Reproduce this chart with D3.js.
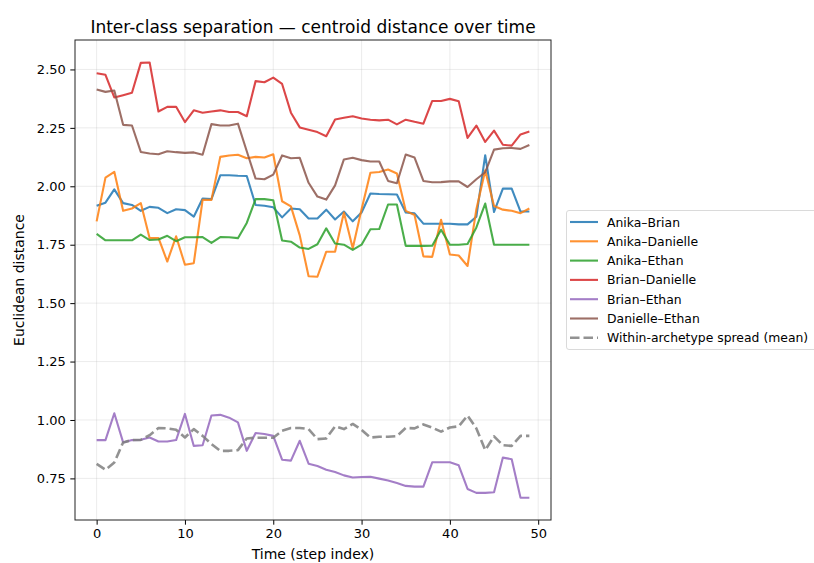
<!DOCTYPE html>
<html>
<head>
<meta charset="utf-8">
<script src="https://cdn.jsdelivr.net/npm/d3@7"></script>
<style>
  html, body { margin: 0; padding: 0; background: #fff; }
  svg { display: block; font-family: "DejaVu Sans", sans-serif; }
</style>
</head>
<body>
<svg id="chart" width="814" height="563"></svg>
<script>
// Centroid distance between each pair of archetypes, per time step
const steps = d3.range(50);

const anikaBrian = [1.917, 1.930, 1.987, 1.928, 1.920, 1.895, 1.912, 1.908, 1.885, 1.902,
  1.898, 1.870, 1.948, 1.945, 2.047, 2.047, 2.045, 2.044, 1.920, 1.917,
  1.910, 1.867, 1.905, 1.902, 1.862, 1.862, 1.900, 1.858, 1.892, 1.850,
  1.888, 1.969, 1.967, 1.966, 1.965, 1.888, 1.884, 1.840, 1.840, 1.840,
  1.840, 1.837, 1.837, 1.870, 2.133, 1.890, 1.990, 1.990, 1.892, 1.892];

const anikaDanielle = [1.850, 2.037, 2.062, 1.895, 1.905, 1.928, 1.778, 1.779, 1.678, 1.786,
  1.664, 1.671, 1.942, 1.942, 2.126, 2.132, 2.135, 2.120, 2.126, 2.123,
  2.137, 1.936, 1.914, 1.790, 1.615, 1.613, 1.720, 1.720, 1.888, 1.735,
  1.902, 2.058, 2.061, 2.072, 2.055, 1.895, 1.877, 1.700, 1.698, 1.857,
  1.708, 1.704, 1.659, 1.902, 2.068, 1.916, 1.900, 1.895, 1.885, 1.905];

const anikaEthan = [1.796, 1.769, 1.769, 1.769, 1.769, 1.793, 1.770, 1.772, 1.788, 1.765,
  1.782, 1.782, 1.783, 1.758, 1.783, 1.782, 1.778, 1.843, 1.945, 1.945,
  1.940, 1.768, 1.763, 1.738, 1.732, 1.752, 1.820, 1.755, 1.750, 1.728,
  1.750, 1.816, 1.817, 1.922, 1.922, 1.745, 1.745, 1.745, 1.746, 1.814,
  1.750, 1.750, 1.753, 1.824, 1.926, 1.750, 1.750, 1.750, 1.750, 1.750];

const brianDanielle = [2.484, 2.477, 2.380, 2.390, 2.400, 2.528, 2.530, 2.320, 2.340, 2.340,
  2.275, 2.325, 2.315, 2.320, 2.325, 2.318, 2.318, 2.300, 2.450, 2.445,
  2.465, 2.438, 2.315, 2.252, 2.242, 2.232, 2.214, 2.286, 2.293, 2.300,
  2.290, 2.285, 2.282, 2.285, 2.265, 2.285, 2.276, 2.268, 2.365, 2.365,
  2.374, 2.364, 2.207, 2.260, 2.190, 2.238, 2.178, 2.174, 2.222, 2.234];

const brianEthan = [0.914, 0.914, 1.029, 0.904, 0.914, 0.915, 0.925, 0.908, 0.908, 0.914,
  1.026, 0.889, 0.892, 1.019, 1.022, 1.010, 0.990, 0.868, 0.944, 0.940,
  0.932, 0.830, 0.826, 0.911, 0.813, 0.803, 0.787, 0.777, 0.763, 0.754,
  0.756, 0.757, 0.749, 0.741, 0.730, 0.718, 0.715, 0.715, 0.819, 0.819,
  0.819, 0.806, 0.705, 0.688, 0.688, 0.691, 0.839, 0.832, 0.667, 0.667];

const danielleEthan = [2.414, 2.404, 2.410, 2.263, 2.260, 2.147, 2.140, 2.137, 2.150, 2.146,
  2.143, 2.145, 2.135, 2.266, 2.260, 2.260, 2.268, 2.150, 2.033, 2.030,
  2.050, 2.132, 2.120, 2.122, 2.015, 1.956, 1.943, 2.004, 2.115, 2.122,
  2.112, 2.106, 2.106, 2.023, 2.013, 2.136, 2.123, 2.023, 2.017, 2.018,
  2.021, 2.021, 1.997, 2.030, 2.060, 2.157, 2.163, 2.164, 2.160, 2.177];

const withinSpread = [0.812, 0.787, 0.818, 0.904, 0.914, 0.915, 0.935, 0.966, 0.964, 0.958,
  0.925, 0.961, 0.932, 0.897, 0.868, 0.868, 0.871, 0.921, 0.924, 0.924,
  0.924, 0.954, 0.966, 0.966, 0.961, 0.918, 0.921, 0.973, 0.961, 0.983,
  0.958, 0.925, 0.928, 0.928, 0.931, 0.966, 0.964, 0.981, 0.967, 0.950,
  0.968, 0.973, 1.019, 0.964, 0.871, 0.930, 0.892, 0.889, 0.932, 0.932];

const seriesNames = ["Anika–Brian", "Anika–Danielle", "Anika–Ethan", "Brian–Danielle",
  "Brian–Ethan", "Danielle–Ethan", "Within-archetype spread (mean)"];
const seriesValues = [anikaBrian, anikaDanielle, anikaEthan, brianDanielle,
  brianEthan, danielleEthan, withinSpread];
const seriesColors = ["#1f77b4", "#ff7f0e", "#2ca02c", "#d62728", "#9467bd", "#8c564b", "#7f7f7f"];

const xTicks = [0, 10, 20, 30, 40, 50];
const yTicks = [0.75, 1.00, 1.25, 1.50, 1.75, 2.00, 2.25, 2.50];

const svg = d3.select("#chart");
const plot = { left: 75, right: 551, top: 40, bottom: 520 };
const fontSize = "13px";
const labelFontSize = "14px";
const legendFontSize = "12.4px";

const x = d3.scaleLinear().domain([-2.45, 51.45]).range([plot.left, plot.right]);
const y = d3.scaleLinear().domain([0.572, 2.626]).range([plot.bottom, plot.top]);

// grid
const grid = svg.append("g");
grid.selectAll(".gx").data(xTicks).join("line")
  .attr("x1", d => x(d)).attr("x2", d => x(d))
  .attr("y1", plot.top).attr("y2", plot.bottom)
  .attr("stroke", "#b0b0b0").attr("stroke-opacity", 0.3).attr("stroke-width", 0.8);
grid.selectAll(".gy").data(yTicks).join("line")
  .attr("y1", d => y(d)).attr("y2", d => y(d))
  .attr("x1", plot.left).attr("x2", plot.right)
  .attr("stroke", "#b0b0b0").attr("stroke-opacity", 0.3).attr("stroke-width", 0.8);

// lines
const line = d3.line().x((d, i) => x(steps[i])).y(d => y(d));
seriesValues.forEach((vals, k) => {
  const dashed = k === 6;
  svg.append("path")
    .datum(vals)
    .attr("d", line)
    .attr("fill", "none")
    .attr("stroke", seriesColors[k])
    .attr("stroke-opacity", 0.85)
    .attr("stroke-width", dashed ? 2.6 : 2.1)
    .attr("stroke-linejoin", "round")
    .attr("stroke-dasharray", dashed ? "9.5,4" : null);
});

// axes
const xAxis = d3.axisBottom(x).tickValues(xTicks).tickSize(4.7).tickPadding(4).tickFormat(d3.format("d"));
const yAxis = d3.axisLeft(y).tickValues(yTicks).tickSize(4.7).tickPadding(4.5).tickFormat(d3.format(".2f"));

const gx = svg.append("g").attr("transform", `translate(0,${plot.bottom})`).call(xAxis);
const gy = svg.append("g").attr("transform", `translate(${plot.left},0)`).call(yAxis);
[gx, gy].forEach(g => {
  g.select(".domain").remove();
  g.selectAll(".tick line").attr("stroke", "#000").attr("stroke-width", 1);
  g.selectAll(".tick text").attr("fill", "#000").style("font-size", fontSize)
    .style("font-family", "'DejaVu Sans', sans-serif");
});

// frame
svg.append("rect")
  .attr("x", plot.left).attr("y", plot.top)
  .attr("width", plot.right - plot.left).attr("height", plot.bottom - plot.top)
  .attr("fill", "none").attr("stroke", "#222").attr("stroke-width", 1);

// title & axis labels
svg.append("text")
  .attr("x", (plot.left + plot.right) / 2).attr("y", 33)
  .attr("text-anchor", "middle").style("font-size", "17px").attr("fill", "#000")
  .text("Inter-class separation — centroid distance over time");
svg.append("text")
  .attr("x", (plot.left + plot.right) / 2).attr("y", 559)
  .attr("text-anchor", "middle").style("font-size", labelFontSize).attr("fill", "#000")
  .text("Time (step index)");
svg.append("text")
  .attr("transform", `translate(24,${(plot.top + plot.bottom) / 2}) rotate(-90)`)
  .attr("text-anchor", "middle").style("font-size", labelFontSize).attr("fill", "#000")
  .text("Euclidean distance");

// legend
const legend = svg.append("g").attr("transform", "translate(566,210)");
legend.append("rect")
  .attr("x", 0.5).attr("y", 0.5).attr("width", 262).attr("height", 139)
  .attr("rx", 2.5).attr("fill", "#fff").attr("fill-opacity", 0.8)
  .attr("stroke", "#d0d0d0").attr("stroke-width", 0.8);
const items = legend.selectAll(".item").data(seriesNames).join("g")
  .attr("transform", (d, i) => `translate(0,${12 + i * 19.3})`);
items.append("line")
  .attr("x1", 4).attr("x2", 32).attr("y1", 0).attr("y2", 0)
  .attr("stroke", (d, i) => seriesColors[i])
  .attr("stroke-opacity", 0.85)
  .attr("stroke-width", (d, i) => i === 6 ? 2.6 : 2.1)
  .attr("stroke-dasharray", (d, i) => i === 6 ? "9.5,4" : null);
items.append("text")
  .attr("x", 41).attr("y", 4.5)
  .style("font-size", legendFontSize).attr("fill", "#000")
  .text(d => d);
</script>
</body>
</html>
